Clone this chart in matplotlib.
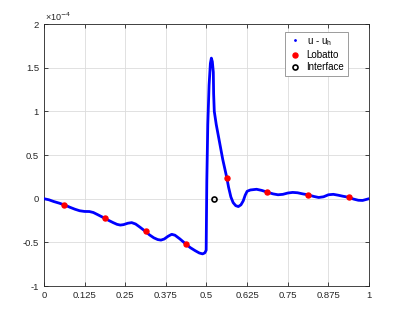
import numpy as np
import matplotlib
matplotlib.use("Agg")
import matplotlib.pyplot as plt
from matplotlib.lines import Line2D
from matplotlib.ticker import FuncFormatter

plt.rcParams['font.family'] = ['Liberation Sans', 'DejaVu Sans']
plt.rcParams['axes.unicode_minus'] = False

# error curve u - u_h (values in units of 1e-4)
x_err = [0.0, 0.015, 0.03, 0.048, 0.0656, 0.08, 0.095, 0.11, 0.125, 0.14,
         0.152, 0.165, 0.1875, 0.2, 0.213, 0.225, 0.235, 0.245, 0.258, 0.27,
         0.282, 0.295, 0.3125, 0.325, 0.338, 0.35, 0.36, 0.37, 0.382, 0.393,
         0.403, 0.418, 0.4375, 0.45, 0.465, 0.478, 0.488, 0.495, 0.499, 0.501,
         0.504, 0.508, 0.512, 0.515, 0.518, 0.521, 0.522, 0.524, 0.53, 0.54,
         0.55, 0.5625, 0.568, 0.575, 0.582, 0.59, 0.598, 0.606, 0.613, 0.619,
         0.625, 0.635, 0.654, 0.67, 0.6875, 0.705, 0.72, 0.735, 0.75, 0.765,
         0.78, 0.795, 0.8125, 0.83, 0.845, 0.86, 0.875, 0.89, 0.905, 0.92,
         0.9375, 0.952, 0.967, 0.98, 0.99, 1.0]
y_err = [0.0, -0.012, -0.032, -0.052, -0.075, -0.098, -0.12, -0.138, -0.146, -0.147,
         -0.158, -0.182, -0.225, -0.25, -0.274, -0.294, -0.302, -0.297, -0.281, -0.274,
         -0.29, -0.325, -0.375, -0.415, -0.448, -0.468, -0.474, -0.462, -0.43, -0.408,
         -0.418, -0.46, -0.522, -0.56, -0.595, -0.622, -0.632, -0.62, -0.59, 0.2,
         0.85, 1.3, 1.55, 1.61, 1.57, 1.45, 1.2, 1.0, 0.85, 0.65,
         0.45, 0.24, 0.13, 0.02, -0.045, -0.08, -0.09, -0.07, -0.025, 0.04,
         0.085, 0.1, 0.108, 0.095, 0.074, 0.055, 0.045, 0.05, 0.065, 0.072,
         0.068, 0.056, 0.044, 0.026, 0.014, 0.022, 0.045, 0.05, 0.04, 0.028,
         0.016, -0.004, -0.018, -0.02, -0.01, 0.0]

# Lobatto points
x_lob = [0.0625, 0.1875, 0.3125, 0.4375, 0.5625, 0.6875, 0.8125, 0.9375]
y_lob = [-0.075, -0.225, -0.375, -0.522, 0.24, 0.074, 0.044, 0.016]

# interface point
x_int = [0.523]
y_int = [0.0]

xticks = [0, 0.125, 0.25, 0.375, 0.5, 0.625, 0.75, 0.875, 1]
xlabels = ['0', '0.125', '0.25', '0.375', '0.5', '0.625', '0.75', '0.875', '1']
yticks = [-1, -0.5, 0, 0.5, 1, 1.5, 2]

fig = plt.figure(figsize=(3.99, 3.21), dpi=100)
ax = fig.add_axes([0.110, 0.109, 0.815, 0.816])

ax.plot(x_err, y_err, color='#0000ff', lw=2, zorder=3, solid_joinstyle='round')
ax.plot(x_lob, y_lob, 'o', color='red', ms=3.6, zorder=4)
ax.plot(x_int, y_int, 'o', mfc='none', mec='black', ms=3.6, mew=1.2, zorder=4)

ax.set_xlim(0, 1)
ax.set_ylim(-1, 2)
ax.set_xticks(xticks)
ax.set_xticklabels(xlabels)
ax.set_yticks(yticks)
ax.yaxis.set_major_formatter(FuncFormatter(lambda v, p: '%g' % v))

gray = '#262626'
ax.grid(True, color='#dcdcdc', lw=0.6)
ax.set_axisbelow(True)
ax.tick_params(direction='in', top=True, right=True, labelsize=6.8,
               colors=gray, length=3, width=0.6)
for s in ax.spines.values():
    s.set_color(gray)
    s.set_linewidth(0.6)
ax.text(0.003, 1.006, '×10$^{-4}$', transform=ax.transAxes, fontsize=6.5,
        color=gray, ha='left', va='bottom')

handles = [
    Line2D([], [], ls='none', marker='.', color='#0000ff', ms=2),
    Line2D([], [], ls='none', marker='o', color='red', ms=3.6),
    Line2D([], [], ls='none', marker='o', mfc='none', mec='black', ms=3.6, mew=1.2),
]
leg = ax.legend(handles, ['u - u$_\\mathregular{h}$', 'Lobatto', 'Interface'],
                loc='upper left', bbox_to_anchor=(0.742, 0.97), fontsize=7,
                fancybox=False, framealpha=1, edgecolor='#8c8c8c',
                handlelength=1.2, handletextpad=0.6, borderpad=0.4,
                labelspacing=0.25, borderaxespad=0)
leg.get_frame().set_linewidth(0.6)

fig.savefig('out.png', dpi=100)
